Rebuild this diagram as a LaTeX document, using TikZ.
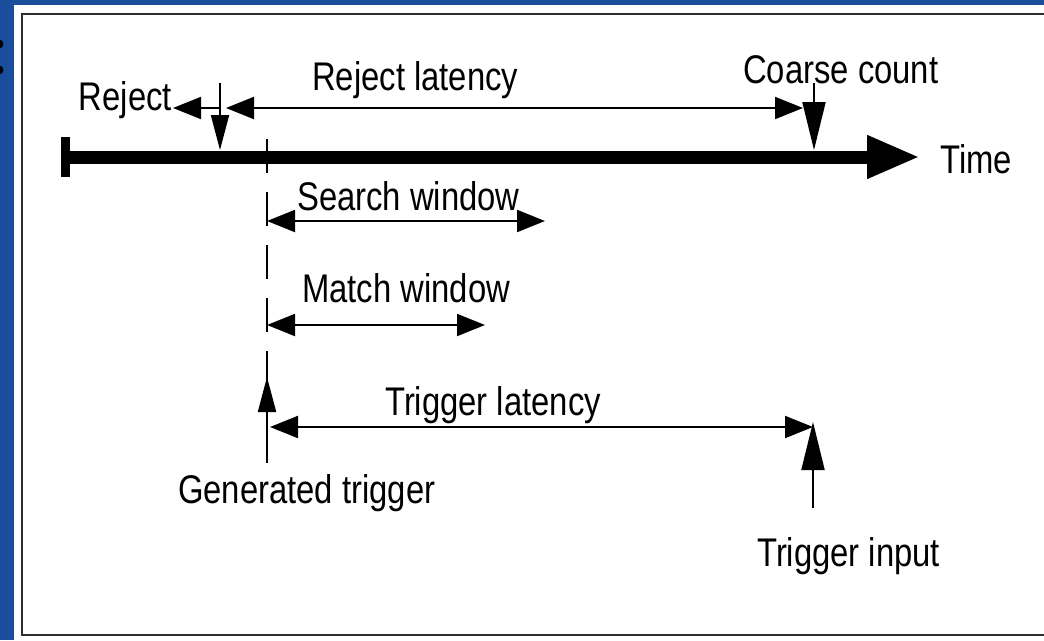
\documentclass[tikz,border=0pt]{standalone}
\usepackage{fontspec}
\setmainfont{Liberation Sans}[FakeStretch=0.82]
\usetikzlibrary{arrows.meta}
\definecolor{slideblue}{RGB}{26,78,156}
\definecolor{framegray}{RGB}{45,45,45}
\begin{document}
\begin{tikzpicture}[x=1pt,y=-1pt,
  lbl/.style={inner sep=0pt, font=\fontsize{40}{40}\selectfont, anchor=base west},
  conn/.style={line width=2pt},
  htip/.tip={Triangle[length=28pt 0 0,width=22pt 0 0]},
  stip/.tip={Triangle[length=35pt 0 0,width=18pt 0 0]},
  ltip/.tip={Triangle[length=48pt 0 0,width=23pt 0 0]},
  bigtip/.tip={Triangle[length=53pt 0 0,width=40pt 0 0]}]
\useasboundingbox (0,0) rectangle (1044,640);
% slide background
\fill[slideblue] (0,0) rectangle (1044,640);
\fill[black] (-1,44) circle (4.5pt);
\fill[black] (-1,70) circle (4.5pt);
\fill[white] (14,5) rectangle (1060,660);
\draw[framegray, line width=2.5pt] (22,14) rectangle (1070,635);

% coordinates
\coordinate (t0) at (66,157);
\coordinate (tend) at (920,157);
\coordinate (dtop) at (267,139);
\coordinate (dbot) at (267,385);
\coordinate (rjtop) at (220,83);
\coordinate (rjbar) at (220,150);
\coordinate (rjx) at (220,108);
\coordinate (rjtip) at (173,108);
\coordinate (rl0) at (226,108);
\coordinate (rl1) at (803,108);
\coordinate (cctop) at (814,83);
\coordinate (ccbar) at (814,150);
\coordinate (sw0) at (267,221);
\coordinate (sw1) at (545,221);
\coordinate (mw0) at (267,325);
\coordinate (mw1) at (485,325);
\coordinate (gtbot) at (267,463);
\coordinate (gttip) at (267,377);
\coordinate (tl0) at (270,427);
\coordinate (tl1) at (813,427);
\coordinate (tibot) at (813,508);
\coordinate (titip) at (813,422);

% dashed marker line (behind the time bar)
\draw[line width=1.6pt, dash pattern=on 34pt off 19pt] (dtop) -- (dbot);

% time axis
\draw[line width=13pt, -{bigtip}] (t0) -- (tend);
\fill[black] (61,137) rectangle (70,177);

% labels
\node[lbl, anchor=base east] (reject) at (172,110) {Reject};
\node[lbl] (rejlat) at (312,90) {Reject latency};
\node[lbl] (coarse) at (743,83) {Coarse count};
\node[lbl] (time) at (940,173) {Time};
\node[lbl] (search) at (297,210) {Search window};
\node[lbl] (match) at (302,302) {Match window};
\node[lbl] (triglat) at (385,415) {Trigger latency};
\node[lbl] (gentrig) at (178,503) {Generated trigger};
\node[lbl] (triginp) at (757,566) {Trigger input};

% connectors
\draw[conn, -{stip}] (rjtop) -- (rjbar);
\draw[conn, -{htip}] (rjx) -- (rjtip);
\draw[conn, {htip}-{htip}] (rl0) -- (rl1);
\draw[conn, -{ltip}] (cctop) -- (ccbar);
\draw[conn, {htip}-{htip}] (sw0) -- (sw1);
\draw[conn, {htip}-{htip}] (mw0) -- (mw1);
\draw[conn, -{stip}] (gtbot) -- (gttip);
\draw[conn, {htip}-{htip}] (tl0) -- (tl1);
\draw[conn, -{ltip}] (tibot) -- (titip);
\end{tikzpicture}
\end{document}
